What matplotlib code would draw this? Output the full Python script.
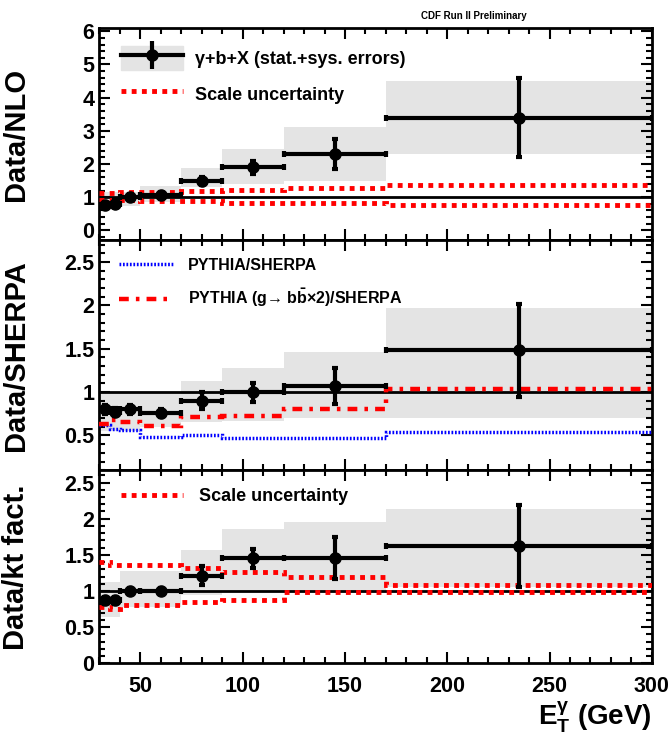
import numpy as np
import matplotlib
matplotlib.use("Agg")
import matplotlib.pyplot as plt
from matplotlib.patches import Patch
from matplotlib.lines import Line2D
from matplotlib.ticker import MultipleLocator, FuncFormatter

plt.rcParams['font.family'] = ['Liberation Sans', 'DejaVu Sans']
plt.rcParams['font.weight'] = 'bold'
plt.rcParams['mathtext.fontset'] = 'custom'
plt.rcParams['mathtext.rm'] = 'Liberation Sans:bold'
plt.rcParams['mathtext.bf'] = 'Liberation Sans:bold'
plt.rcParams['mathtext.it'] = 'Liberation Sans:bold'
plt.rcParams['mathtext.default'] = 'bf'

# bin edges in E_T (GeV)
edges = np.array([30, 35, 40, 50, 70, 90, 120, 170, 300])

# Data/NLO
nlo_val = [0.75, 0.8, 1.0, 1.05, 1.5, 1.9, 2.3, 3.4]
nlo_err = [0.1, 0.1, 0.08, 0.1, 0.12, 0.2, 0.45, 1.2]
nlo_band_lo = [0.74, 0.74, 0.74, 0.85, 1.3, 1.4, 1.48, 2.3]
nlo_band_hi = [1.16, 1.16, 1.16, 1.34, 1.87, 2.45, 3.12, 4.5]
nlo_scale_hi = [1.12, 1.12, 1.15, 1.17, 1.19, 1.22, 1.27, 1.38]
nlo_scale_lo = [0.92, 0.92, 0.9, 0.88, 0.87, 0.83, 0.82, 0.75]

# Data/SHERPA
sh_val = [0.8, 0.77, 0.8, 0.76, 0.9, 1.0, 1.07, 1.48]
sh_err = [0.05, 0.05, 0.05, 0.05, 0.1, 0.11, 0.21, 0.54]
sh_band_lo = [0.55, 0.55, 0.55, 0.6, 0.65, 0.67, 0.7, 0.7]
sh_band_hi = [0.98, 0.98, 0.98, 0.98, 1.13, 1.28, 1.46, 1.97]
pythia = [0.62, 0.57, 0.56, 0.48, 0.51, 0.47, 0.47, 0.54]
pythia_g = [0.63, 0.68, 0.65, 0.61, 0.71, 0.72, 0.8, 1.04]

# Data/kt factorization
kt_val = [0.87, 0.87, 1.0, 1.0, 1.21, 1.45, 1.45, 1.62]
kt_err = [0.05, 0.05, 0.04, 0.04, 0.13, 0.13, 0.29, 0.57]
kt_band_lo = [0.64, 0.64, 0.78, 0.78, 0.94, 1.0, 1.0, 1.05]
kt_band_hi = [1.12, 1.12, 1.28, 1.28, 1.57, 1.86, 1.96, 2.14]
kt_scale_hi = [1.4, 1.36, 1.36, 1.36, 1.32, 1.26, 1.19, 1.08]
kt_scale_lo = [0.78, 0.75, 0.8, 0.8, 0.85, 0.88, 0.98, 0.98]

centers = 0.5 * (edges[1:] + edges[:-1])
halfw = 0.5 * np.diff(edges)

GREY = '#e4e4e4'
RED = '#ff0000'
BLUE = '#0000ff'
DOT = (0, (1, 1.1))
DASHDOT = (0, (2.2, 1.6, 0.8, 1.6))
BLUEDOT = (0, (0.5, 0.5))

fig = plt.figure(figsize=(6.72, 7.37), dpi=100)
L, W = 0.148, 0.822
ax1 = fig.add_axes([L, 0.674, W, 0.288])
ax2 = fig.add_axes([L, 0.362, W, 0.312], sharex=ax1)
ax3 = fig.add_axes([L, 0.100, W, 0.262], sharex=ax1)


def data_points(ax, val, err, band_lo, band_hi):
    ax.stairs(band_hi, edges, baseline=band_lo, fill=True, color=GREY, lw=0, zorder=1)
    ax.axhline(1.0, color='black', lw=2, zorder=2)
    ax.errorbar(centers, val, yerr=err, xerr=halfw, fmt='o', color='black',
                ms=8, lw=3, capsize=2.5, capthick=3, zorder=5)


def step(ax, vals, color, lw, ls):
    ax.stairs(vals, edges, baseline=None, color=color, lw=lw, ls=ls, zorder=3)


def style(ax, ylim, major, minor, label):
    ax.set_xlim(30, 300)
    ax.set_ylim(*ylim)
    ax.xaxis.set_major_locator(MultipleLocator(50))
    ax.xaxis.set_minor_locator(MultipleLocator(10))
    ax.yaxis.set_major_locator(MultipleLocator(major))
    ax.yaxis.set_minor_locator(MultipleLocator(minor))
    fmt = FuncFormatter(lambda v, p: '%g' % round(v, 2))
    ax.xaxis.set_major_formatter(fmt)
    ax.yaxis.set_major_formatter(fmt)
    ax.tick_params(which='both', direction='in', top=True, right=True, width=1.5,
                   labelsize=15.5)
    ax.tick_params(which='major', length=8)
    ax.tick_params(which='minor', length=4)
    ax.tick_params(axis='x', pad=9)
    for sp in ax.spines.values():
        sp.set_linewidth(2)
    ax.set_ylabel(label, fontsize=21, fontweight='bold')
    ax.yaxis.set_label_coords(-0.125, 0.5)


def data_handle():
    box = Patch(color=GREY)
    hline = Line2D([], [], color='black', lw=3, marker='o', ms=8)
    vbar = Line2D([], [], color='black', lw=0, marker='|', ms=20, mew=3)
    return (box, hline, vbar)


# top panel
data_points(ax1, nlo_val, nlo_err, nlo_band_lo, nlo_band_hi)
step(ax1, nlo_scale_hi, RED, 3.5, DOT)
step(ax1, nlo_scale_lo, RED, 3.5, DOT)
style(ax1, (-0.3, 6.1), 1, 0.2, 'Data/NLO')
ax1.legend([data_handle(), Line2D([], [], color=RED, lw=3.5, ls=DOT)],
           ['γ+b+X (stat.+sys. errors)', 'Scale uncertainty'],
           loc='upper left', bbox_to_anchor=(0.01, 0.99), frameon=False, fontsize=13,
           handlelength=3.4, handleheight=1.6, labelspacing=0.7, handletextpad=0.7)

# middle panel
data_points(ax2, sh_val, sh_err, sh_band_lo, sh_band_hi)
step(ax2, pythia, BLUE, 2.5, BLUEDOT)
step(ax2, pythia_g, RED, 3.2, DASHDOT)
style(ax2, (0.1, 2.75), 0.5, 0.1, 'Data/SHERPA')
ax2.legend([Line2D([], [], color=BLUE, lw=2.5, ls=BLUEDOT),
            Line2D([], [], color=RED, lw=3.2, ls=DASHDOT)],
           ['PYTHIA/SHERPA', r'PYTHIA (g→ b$\bar{b}$×2)/SHERPA'],
           loc='upper left', bbox_to_anchor=(0.01, 0.985), frameon=False, fontsize=11.5,
           handlelength=3.4, labelspacing=0.85, handletextpad=0.9)

# bottom panel
data_points(ax3, kt_val, kt_err, kt_band_lo, kt_band_hi)
step(ax3, kt_scale_hi, RED, 3.5, DOT)
step(ax3, kt_scale_lo, RED, 3.5, DOT)
style(ax3, (0, 2.67), 0.5, 0.1, 'Data/kt fact.')
ax3.legend([Line2D([], [], color=RED, lw=3.5, ls=DOT)], ['Scale uncertainty'],
           loc='upper left', bbox_to_anchor=(0.01, 0.99), frameon=False, fontsize=13,
           handlelength=3.4, handletextpad=0.9)

ax1.tick_params(labelbottom=False)
ax2.tick_params(labelbottom=False)
for ax in (ax1, ax2, ax3):
    for t in ax.get_xticklabels() + ax.get_yticklabels():
        t.set_fontweight('bold')
ax3.set_xlabel(r'E$_{T}^{\gamma}$ (GeV)', fontsize=20, fontweight='bold')
ax3.xaxis.set_label_coords(1.0, -0.19)
ax3.xaxis.label.set_horizontalalignment('right')

fig.text(0.705, 0.978, 'CDF Run II Preliminary', fontsize=7, fontweight='bold',
         ha='center', va='center')

fig.savefig('out.png', dpi=100)
